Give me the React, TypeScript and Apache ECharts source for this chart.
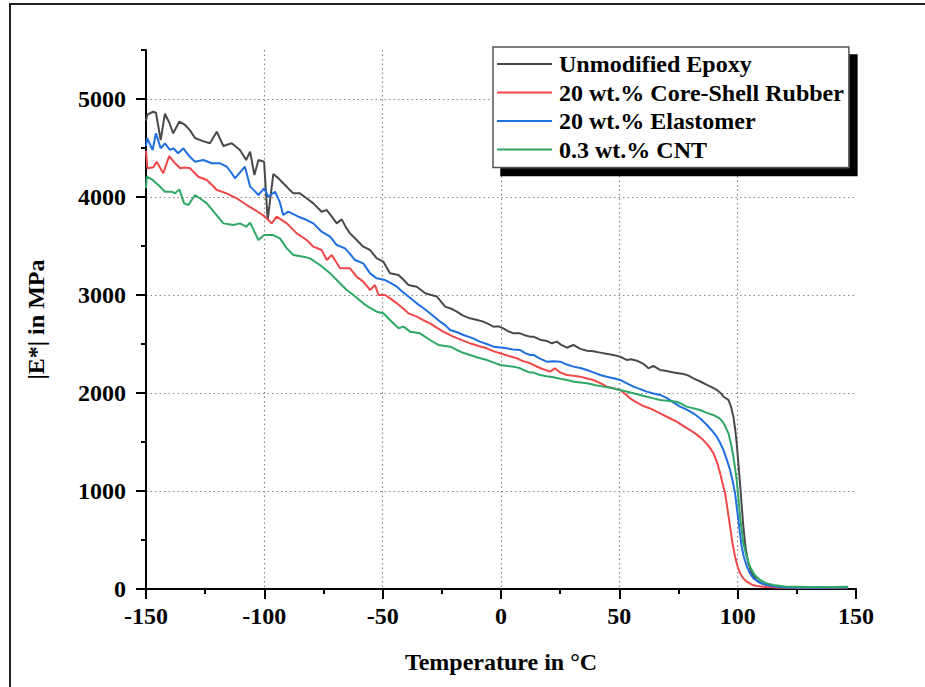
import React, { useEffect, useRef } from "react";
import * as echarts from "echarts";

const seriesNames = [
  "Unmodified Epoxy",
  "20 wt.% Core-Shell Rubber",
  "20 wt.% Elastomer",
  "0.3 wt.% CNT",
];
const seriesColors = ["#4a4a4a", "#f04848", "#1f6fe0", "#2fa865"];

const xTicks = [-150, -100, -50, 0, 50, 100, 150];
const yMajorTicks = [0, 1000, 2000, 3000, 4000, 5000];
const yMinorTicks = [500, 1500, 2500, 3500, 4500, 5500];

const unmodified: [number, number][] = [
  [-150, 4780], [-149.4, 4840], [-147, 4870], [-145.8, 4860], [-143.8, 4580], [-142, 4850],
  [-140.2, 4760], [-138.5, 4650], [-135.9, 4770], [-133.5, 4735], [-131.4, 4680], [-129.3, 4602],
  [-126, 4570], [-123, 4548], [-120.1, 4666], [-117.3, 4520], [-113.8, 4548], [-110.3, 4480],
  [-107.7, 4378], [-106, 4462], [-104.2, 4224], [-102.5, 4378], [-100.1, 4360], [-98.6, 3765],
  [-96.2, 4235], [-94, 4190], [-92, 4140], [-89.8, 4085], [-87.7, 4037], [-85, 4037],
  [-82, 3985], [-79.3, 3935], [-75.8, 3850], [-73.6, 3867], [-71.5, 3800], [-69.4, 3731],
  [-67.3, 3772], [-65.5, 3690], [-63.8, 3629], [-61, 3561], [-58.2, 3493], [-55.3, 3459],
  [-52.5, 3374], [-49.7, 3340], [-46.9, 3221], [-43.3, 3204], [-41, 3150], [-39.1, 3102],
  [-35.6, 3085], [-32, 3017], [-29.5, 3000], [-27.1, 2984], [-23.6, 2881], [-21, 2860],
  [-18.7, 2830], [-16, 2790], [-13.1, 2762], [-10, 2745], [-7.5, 2728], [-5, 2700],
  [-3.2, 2677], [-1, 2680], [1, 2660], [3, 2630], [5.3, 2609], [8, 2609], [10, 2590],
  [12.3, 2575], [13.7, 2575], [17, 2540], [19.5, 2530], [21.5, 2507], [23.6, 2524],
  [25.5, 2490], [27.8, 2462], [30.6, 2490], [33.5, 2450], [36.3, 2432], [39, 2425],
  [41.9, 2412], [44.5, 2400], [47.5, 2388], [50.3, 2371], [53.1, 2337], [55, 2345],
  [57.4, 2330], [60, 2300], [62.3, 2252], [64.4, 2276], [67.2, 2235], [70, 2225], [73, 2210],
  [77.1, 2194], [79, 2180], [81.3, 2150], [84, 2120], [87, 2082], [89, 2060], [91.2, 2031],
  [92.8, 2000], [94, 1962], [96.1, 1929], [97.2, 1860], [98.2, 1759], [99, 1620], [99.6, 1487],
  [100.3, 1280], [101, 1079], [101.7, 850], [102.4, 636], [103.3, 430], [104.5, 262],
  [106, 160], [108, 92], [110, 58], [112.3, 41], [115, 28], [118, 17], [125, 12], [135, 12],
  [146.5, 15],
];

const coreShell: [number, number][] = [
  [-150, 4470], [-149.4, 4293], [-146.9, 4303], [-145.5, 4360], [-142.7, 4242], [-140.2, 4418],
  [-137.7, 4344], [-135.6, 4293], [-133.5, 4300], [-131.4, 4293], [-127.9, 4207], [-124.3, 4174],
  [-122, 4120], [-120.1, 4071], [-115.9, 4037], [-111.7, 3987], [-107.4, 3918], [-103.9, 3867],
  [-99.7, 3799], [-96.9, 3731], [-94.8, 3799], [-90.5, 3731], [-86.3, 3629], [-82.1, 3561],
  [-79.3, 3493], [-75.8, 3459], [-73.6, 3357], [-71.5, 3408], [-68, 3272], [-63.8, 3272],
  [-61, 3187], [-58.2, 3136], [-55.3, 3051], [-53.2, 3102], [-51.8, 3000], [-49, 3000],
  [-46.5, 2960], [-44, 2915], [-41.5, 2865], [-39.1, 2813], [-35.6, 2779], [-33, 2745],
  [-30, 2711], [-27, 2665], [-24.4, 2626], [-20.2, 2575], [-16.5, 2540], [-13.1, 2507],
  [-9.5, 2480], [-6, 2456], [-3, 2425], [-0.4, 2405], [3, 2380], [6.7, 2354], [8.1, 2337],
  [10, 2320], [12.3, 2303], [13.7, 2286], [17, 2250], [20.7, 2218], [22.8, 2252], [25, 2210],
  [27.8, 2184], [30.6, 2175], [33.4, 2167], [36, 2150], [39, 2133], [42, 2100], [44.7, 2065],
  [47.5, 2048], [50.3, 2031], [52.5, 1990], [54.5, 1946], [57.3, 1905], [60.2, 1867],
  [63.7, 1835], [67.2, 1793], [70.7, 1750], [74.2, 1708], [77, 1665], [79.9, 1622],
  [82.7, 1575], [85.5, 1520], [87.7, 1460], [89.8, 1384], [91.2, 1300], [92.6, 1180],
  [93.6, 1080], [94.7, 976], [95.8, 800], [96.8, 636], [97.8, 470], [98.9, 330], [100, 230],
  [101, 160], [102.3, 110], [103.9, 75], [106, 45], [108, 31], [112, 20], [118, 12],
  [128, 10], [146.5, 12],
];

const elastomer: [number, number][] = [
  [-150, 4520], [-149.5, 4600], [-147.2, 4480], [-145.8, 4650], [-143.8, 4497], [-142, 4548],
  [-139.9, 4480], [-138.5, 4497], [-136.4, 4446], [-134.2, 4497], [-131.8, 4420], [-129.3, 4360],
  [-125.8, 4378], [-122.2, 4344], [-118.7, 4344], [-115.9, 4309], [-114, 4250], [-112.4, 4191],
  [-108.2, 4309], [-106, 4106], [-104, 4060], [-102.5, 4020], [-100.1, 4089], [-98.3, 4003],
  [-95.5, 4054], [-93.5, 3950], [-92, 3816], [-89.9, 3850], [-85.6, 3799], [-82.5, 3770],
  [-79.3, 3731], [-75.8, 3646], [-72.2, 3595], [-69.4, 3510], [-65.9, 3476], [-63.8, 3420],
  [-61.7, 3357], [-58.2, 3323], [-55.3, 3221], [-52.5, 3170], [-49, 3153], [-46.5, 3120],
  [-44, 3085], [-41.5, 3030], [-39.1, 2984], [-35.6, 2915], [-33, 2870], [-30, 2813],
  [-25.7, 2728], [-23.5, 2690], [-21.5, 2643], [-18.5, 2620], [-15.9, 2592], [-12, 2560],
  [-8.9, 2524], [-6, 2500], [-3.2, 2473], [0, 2465], [2.4, 2456], [5, 2445], [8.1, 2439],
  [10, 2410], [12.3, 2388], [13.7, 2388], [16.5, 2350], [19.3, 2320], [22, 2325], [25, 2320],
  [27.8, 2290], [30.6, 2269], [33.5, 2255], [36.3, 2235], [39, 2210], [41.9, 2184],
  [44.7, 2165], [47.5, 2150], [50.3, 2133], [53, 2100], [55.9, 2065], [58.8, 2040],
  [61.6, 2014], [64.4, 1995], [67.2, 1980], [70, 1950], [72.8, 1905], [75.7, 1861],
  [78.5, 1830], [81.3, 1793], [84.2, 1740], [87, 1673], [89, 1620], [91.2, 1554], [92.6, 1490],
  [94, 1418], [95.4, 1320], [96.8, 1214], [97.9, 1100], [98.9, 976], [99.6, 840], [100.3, 704],
  [101, 560], [101.7, 432], [102.7, 320], [103.9, 228], [105.2, 160], [106.7, 109], [109, 68],
  [112.3, 41], [116, 25], [120, 15], [130, 12], [146.5, 15],
];

const cnt: [number, number][] = [
  [-150, 4089], [-149.7, 4207], [-147.2, 4174], [-144.1, 4106], [-142, 4054], [-139.2, 4054],
  [-137.7, 4037], [-135.9, 4078], [-133.9, 3935], [-132.1, 3918], [-129.3, 4020], [-126.8, 3980],
  [-124.3, 3935], [-120.8, 3833], [-117.3, 3731], [-113.1, 3714], [-110.3, 3731], [-107.7, 3697],
  [-106, 3738], [-102.5, 3561], [-100.1, 3612], [-96.2, 3612], [-93.4, 3578], [-90.5, 3476],
  [-87.7, 3408], [-83.5, 3391], [-80.7, 3374], [-76.5, 3306], [-72.2, 3221], [-69.4, 3153],
  [-65.2, 3051], [-62.4, 3000], [-58.2, 2915], [-55.5, 2870], [-52.5, 2830], [-49.7, 2813],
  [-46.9, 2745], [-43.3, 2660], [-41.2, 2677], [-38.4, 2626], [-34.2, 2609], [-30, 2541],
  [-26.5, 2490], [-21.5, 2473], [-18.7, 2439], [-16, 2410], [-13.1, 2388], [-9.5, 2360],
  [-6, 2337], [-3, 2310], [-0.4, 2286], [3, 2275], [5.3, 2269], [8.1, 2252], [9.5, 2235],
  [12.3, 2208], [13.7, 2208], [16.5, 2184], [19.3, 2170], [22.1, 2160], [25, 2145],
  [27.8, 2133], [31, 2115], [36.3, 2099], [40, 2080], [43.3, 2065], [47, 2048], [50.3, 2031],
  [53, 2015], [55.9, 1997], [58.8, 1980], [61.6, 1962], [64.4, 1945], [67.2, 1929],
  [70.5, 1920], [74.2, 1911], [76.3, 1890], [78.4, 1861], [81.2, 1845], [84, 1827],
  [86.8, 1800], [89.6, 1776], [91, 1760], [92.4, 1742], [93.5, 1710], [94.5, 1673],
  [95.3, 1630], [96.1, 1589], [97.2, 1480], [98.2, 1350], [98.9, 1230], [99.6, 1112],
  [100.3, 930], [101, 738], [101.7, 600], [102.4, 466], [103.8, 330], [105.2, 228],
  [107.3, 140], [109.5, 92], [112, 60], [115.1, 41], [120, 25], [130, 20], [140, 20],
  [146.7, 22],
];

const seriesData = [unmodified, coreShell, elastomer, cnt];

const FONT = "'Liberation Serif', 'Times New Roman', serif";

export default function App() {
  const ref = useRef<HTMLDivElement>(null);

  useEffect(() => {
    if (!ref.current) return;
    const chart = echarts.init(ref.current, null, { renderer: "svg" });
    const textBase = { fontFamily: FONT, fontWeight: "bold" as const, fontSize: 24, color: "#000" };
    const gridLineStyle = { color: "#888", width: 1.2, type: [1.5, 3] };
    chart.setOption({
      animation: false,
      backgroundColor: "#fff",
      grid: { left: 146, right: 69, top: 50, bottom: 98, containLabel: false },
      graphic: [
        {
          type: "polyline",
          shape: { points: [[10, 700], [10, 4], [940, 4]] },
          style: { stroke: "#222", lineWidth: 2, fill: "none" },
          silent: true,
        },
      ],
      legend: {
        show: true,
        data: seriesNames,
        left: 493,
        top: 47,
        orient: "vertical",
        icon: "rect",
        itemWidth: 55,
        itemHeight: 2,
        itemGap: 4.5,
        padding: [5, 5, 6, 4],
        backgroundColor: "#fff",
        borderColor: "#555",
        borderWidth: 1.5,
        borderRadius: 0,
        shadowColor: "#000",
        shadowBlur: 0,
        shadowOffsetX: 8,
        shadowOffsetY: 8,
        textStyle: { ...textBase, padding: [0, 0, 0, 2] },
        selectedMode: false,
      },
      xAxis: {
        type: "value",
        min: xTicks[0],
        max: xTicks[xTicks.length - 1],
        interval: 50,
        position: "bottom",
        axisLine: { show: true, onZero: false, lineStyle: { color: "#000", width: 2 } },
        axisTick: { show: true, inside: false, length: 10, lineStyle: { color: "#000", width: 2 } },
        minorTick: { show: true, splitNumber: 2, length: 5, lineStyle: { color: "#000", width: 2 } },
        axisLabel: { ...textBase, margin: 15, formatter: (v: number) => String(v) },
        splitLine: { show: true, showMinLine: false, showMaxLine: false, lineStyle: gridLineStyle },
        name: "Temperature in °C",
        nameLocation: "middle",
        nameGap: 61,
        nameTextStyle: textBase,
      },
      yAxis: [
        {
          type: "value",
          min: 0,
          max: 5500,
          interval: 1000,
          position: "left",
          axisLine: { show: true, onZero: false, lineStyle: { color: "#000", width: 2 } },
          axisTick: { show: true, inside: false, length: 10, customValues: yMajorTicks, lineStyle: { color: "#000", width: 2 } },
          axisLabel: {
            ...textBase,
            margin: 20,
            customValues: yMajorTicks,
            formatter: (v: number) => String(v),
          },
          splitLine: { show: true, showMinLine: false, showMaxLine: true, lineStyle: gridLineStyle },
          name: "|E*| in MPa",
          nameLocation: "middle",
          nameGap: 98,
          nameRotate: 90,
          nameTextStyle: textBase,
        },
        {
          type: "value",
          min: 0,
          max: 5500,
          interval: 500,
          position: "left",
          axisLine: { show: false, onZero: false },
          axisTick: { show: true, inside: false, length: 5, customValues: yMinorTicks, lineStyle: { color: "#000", width: 2 } },
          axisLabel: { show: false },
          splitLine: { show: false },
        },
      ],
      series: seriesNames.map((name, i) => ({
        name,
        type: "line",
        data: seriesData[i],
        yAxisIndex: 0,
        symbol: "none",
        showSymbol: false,
        smooth: false,
        color: seriesColors[i],
        lineStyle: { color: seriesColors[i], width: 2 },
        z: 2 + i,
      })),
    });
    return () => chart.dispose();
  }, []);

  return (
    <div
      ref={ref}
      style={{ position: "fixed", left: 0, top: 0, width: 925, height: 687, background: "#fff" }}
    />
  );
}
